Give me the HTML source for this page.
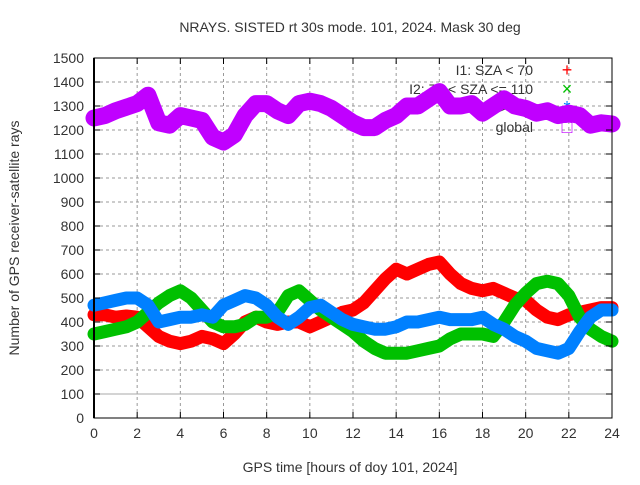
<!DOCTYPE html>
<html><head><meta charset="utf-8"><style>
body{margin:0;background:#fff}
svg text{font-family:"Liberation Sans",sans-serif;font-size:14px;fill:#333}
</style></head><body>
<svg id="c" width="640" height="480" xmlns="http://www.w3.org/2000/svg">
<rect width="640" height="480" fill="#fff"/>
<g id="grid"></g>
<g id="legend"></g>
<g id="series"></g>
<g id="axes"></g>
</svg>
<script>
const hours=[0,0.5,1,1.5,2,2.5,3,3.5,4,4.5,5,5.5,6,6.5,7,7.5,8,8.5,9,9.5,10,10.5,11,11.5,12,12.5,13,13.5,14,14.5,15,15.5,16,16.5,17,17.5,18,18.5,19,19.5,20,20.5,21,21.5,22,22.5,23,23.5,24];
const i1Values=[430,430,420,425,420,380,340,320,310,320,340,330,310,350,400,420,400,390,400,400,380,400,420,440,450,480,530,580,620,600,620,640,650,600,560,540,530,540,520,500,490,450,420,410,430,440,450,460,460];
const i2Values=[350,360,370,380,400,440,480,510,530,500,450,400,380,380,390,420,420,440,510,530,490,450,420,390,360,320,290,270,270,270,280,290,300,330,350,350,350,340,400,470,520,560,570,560,510,420,370,340,320];
const i3Values=[470,480,490,500,500,470,400,410,420,420,430,420,470,490,510,500,470,420,390,420,460,470,440,410,390,380,370,370,380,400,400,410,420,410,410,410,420,390,370,340,320,290,280,270,290,360,420,450,450];
const globalValues=[1250,1260,1280,1295,1310,1345,1230,1220,1260,1250,1240,1170,1150,1180,1260,1310,1310,1280,1260,1310,1320,1310,1290,1260,1230,1210,1210,1240,1260,1300,1300,1330,1360,1300,1300,1310,1270,1300,1330,1300,1290,1270,1280,1260,1270,1260,1220,1230,1225];
const xTicks=[0,2,4,6,8,10,12,14,16,18,20,22,24];
const yTicks=[0,100,200,300,400,500,600,700,800,900,1000,1100,1200,1300,1400,1500];
const X0=94,X1=612,Y0=418,Y1=58;
const xs=h=>X0+(X1-X0)*h/24, ys=v=>Y0-(Y0-Y1)*v/1500;
const NS="http://www.w3.org/2000/svg";
function mk(tag,attrs,parent,txt){const e=document.createElementNS(NS,tag);for(const k in attrs)e.setAttribute(k,attrs[k]);if(txt!==undefined)e.textContent=txt;parent.appendChild(e);return e;}
const grid=document.getElementById('grid'),axes=document.getElementById('axes'),ser=document.getElementById('series'),leg=document.getElementById('legend');
xTicks.forEach(t=>{
 if(t>0&&t<24){const l=mk('line',{x1:xs(t),x2:xs(t),y1:Y0,y2:Y1,stroke:'#999','stroke-dasharray':'3,3'},grid);
 
 }
 const tx=mk('text',{x:xs(t),y:Y0+20,'text-anchor':'middle'},axes,String(t));
 
 
 mk('line',{x1:xs(t),x2:xs(t),y1:Y0,y2:Y0-6,stroke:'#000'},axes);
 mk('line',{x1:xs(t),x2:xs(t),y1:Y1,y2:Y1+6,stroke:'#000'},axes);
});
yTicks.forEach(t=>{
 if(t>0&&t<1500){const l=mk('line',{x1:X0,x2:X1,y1:ys(t),y2:ys(t),stroke:t===100?'#aaa':'#999','stroke-dasharray':t===100?'':'3,3'},grid);
 
 }
 const tx=mk('text',{x:X0-10,y:ys(t)+5,'text-anchor':'end'},axes,String(t));
 
 
 mk('line',{x1:X0,x2:X0+6,y1:ys(t),y2:ys(t),stroke:'#000'},axes);
 mk('line',{x1:X1,x2:X1-6,y1:ys(t),y2:ys(t),stroke:'#000'},axes);
});
const fr=mk('rect',{x:X0,y:Y1,width:X1-X0,height:Y0-Y1,fill:'none',stroke:'#000','stroke-width':1},axes);


mk('line',{x1:X0,x2:X0,y1:Y1,y2:Y0,stroke:'#000','stroke-width':2},axes);
const series=[[i1Values,'#ff0000','series-i1'],[i2Values,'#00c000','series-i2'],[i3Values,'#0080ff','series-i3'],[globalValues,'#c000ff','series-global']];
series.forEach(([vals,col,name])=>{
 const p=mk('polyline',{points:vals.map((v,i)=>xs(hours[i])+','+ys(v)).join(' '),fill:'none',stroke:col,'stroke-width':name==='series-global'?17:13,'stroke-linejoin':'round','stroke-linecap':'round'},ser);
 
 
});
const t=mk('text',{x:350,y:32,'text-anchor':'middle'},axes,'NRAYS. SISTED rt 30s mode. 101, 2024. Mask 30 deg');


const xl=mk('text',{x:350,y:472,'text-anchor':'middle'},axes,'GPS time [hours of doy 101, 2024]');


const yl=mk('text',{x:19,y:238,'text-anchor':'middle',transform:'rotate(-90 19 238)'},axes,'Number of GPS receiver-satellite rays');


const legItems=[['I1: SZA < 70','#ff0000','+'],['I2: 70 < SZA <= 110','#00c000','×'],['I3: SZA > 110','#0080ff','*'],['global','#c000ff','□']];
legItems.forEach(([lab,col,sym],i)=>{
 const y=75+i*19;
 const lt=mk('text',{x:533,y:y,'text-anchor':'end'},leg,lab);
 
 
 const m=mk('text',{x:567,y:y+1,'text-anchor':'middle',style:'fill:'+col+';font-size:18px'},leg,sym);
 
 
});
</script>
</body></html>
